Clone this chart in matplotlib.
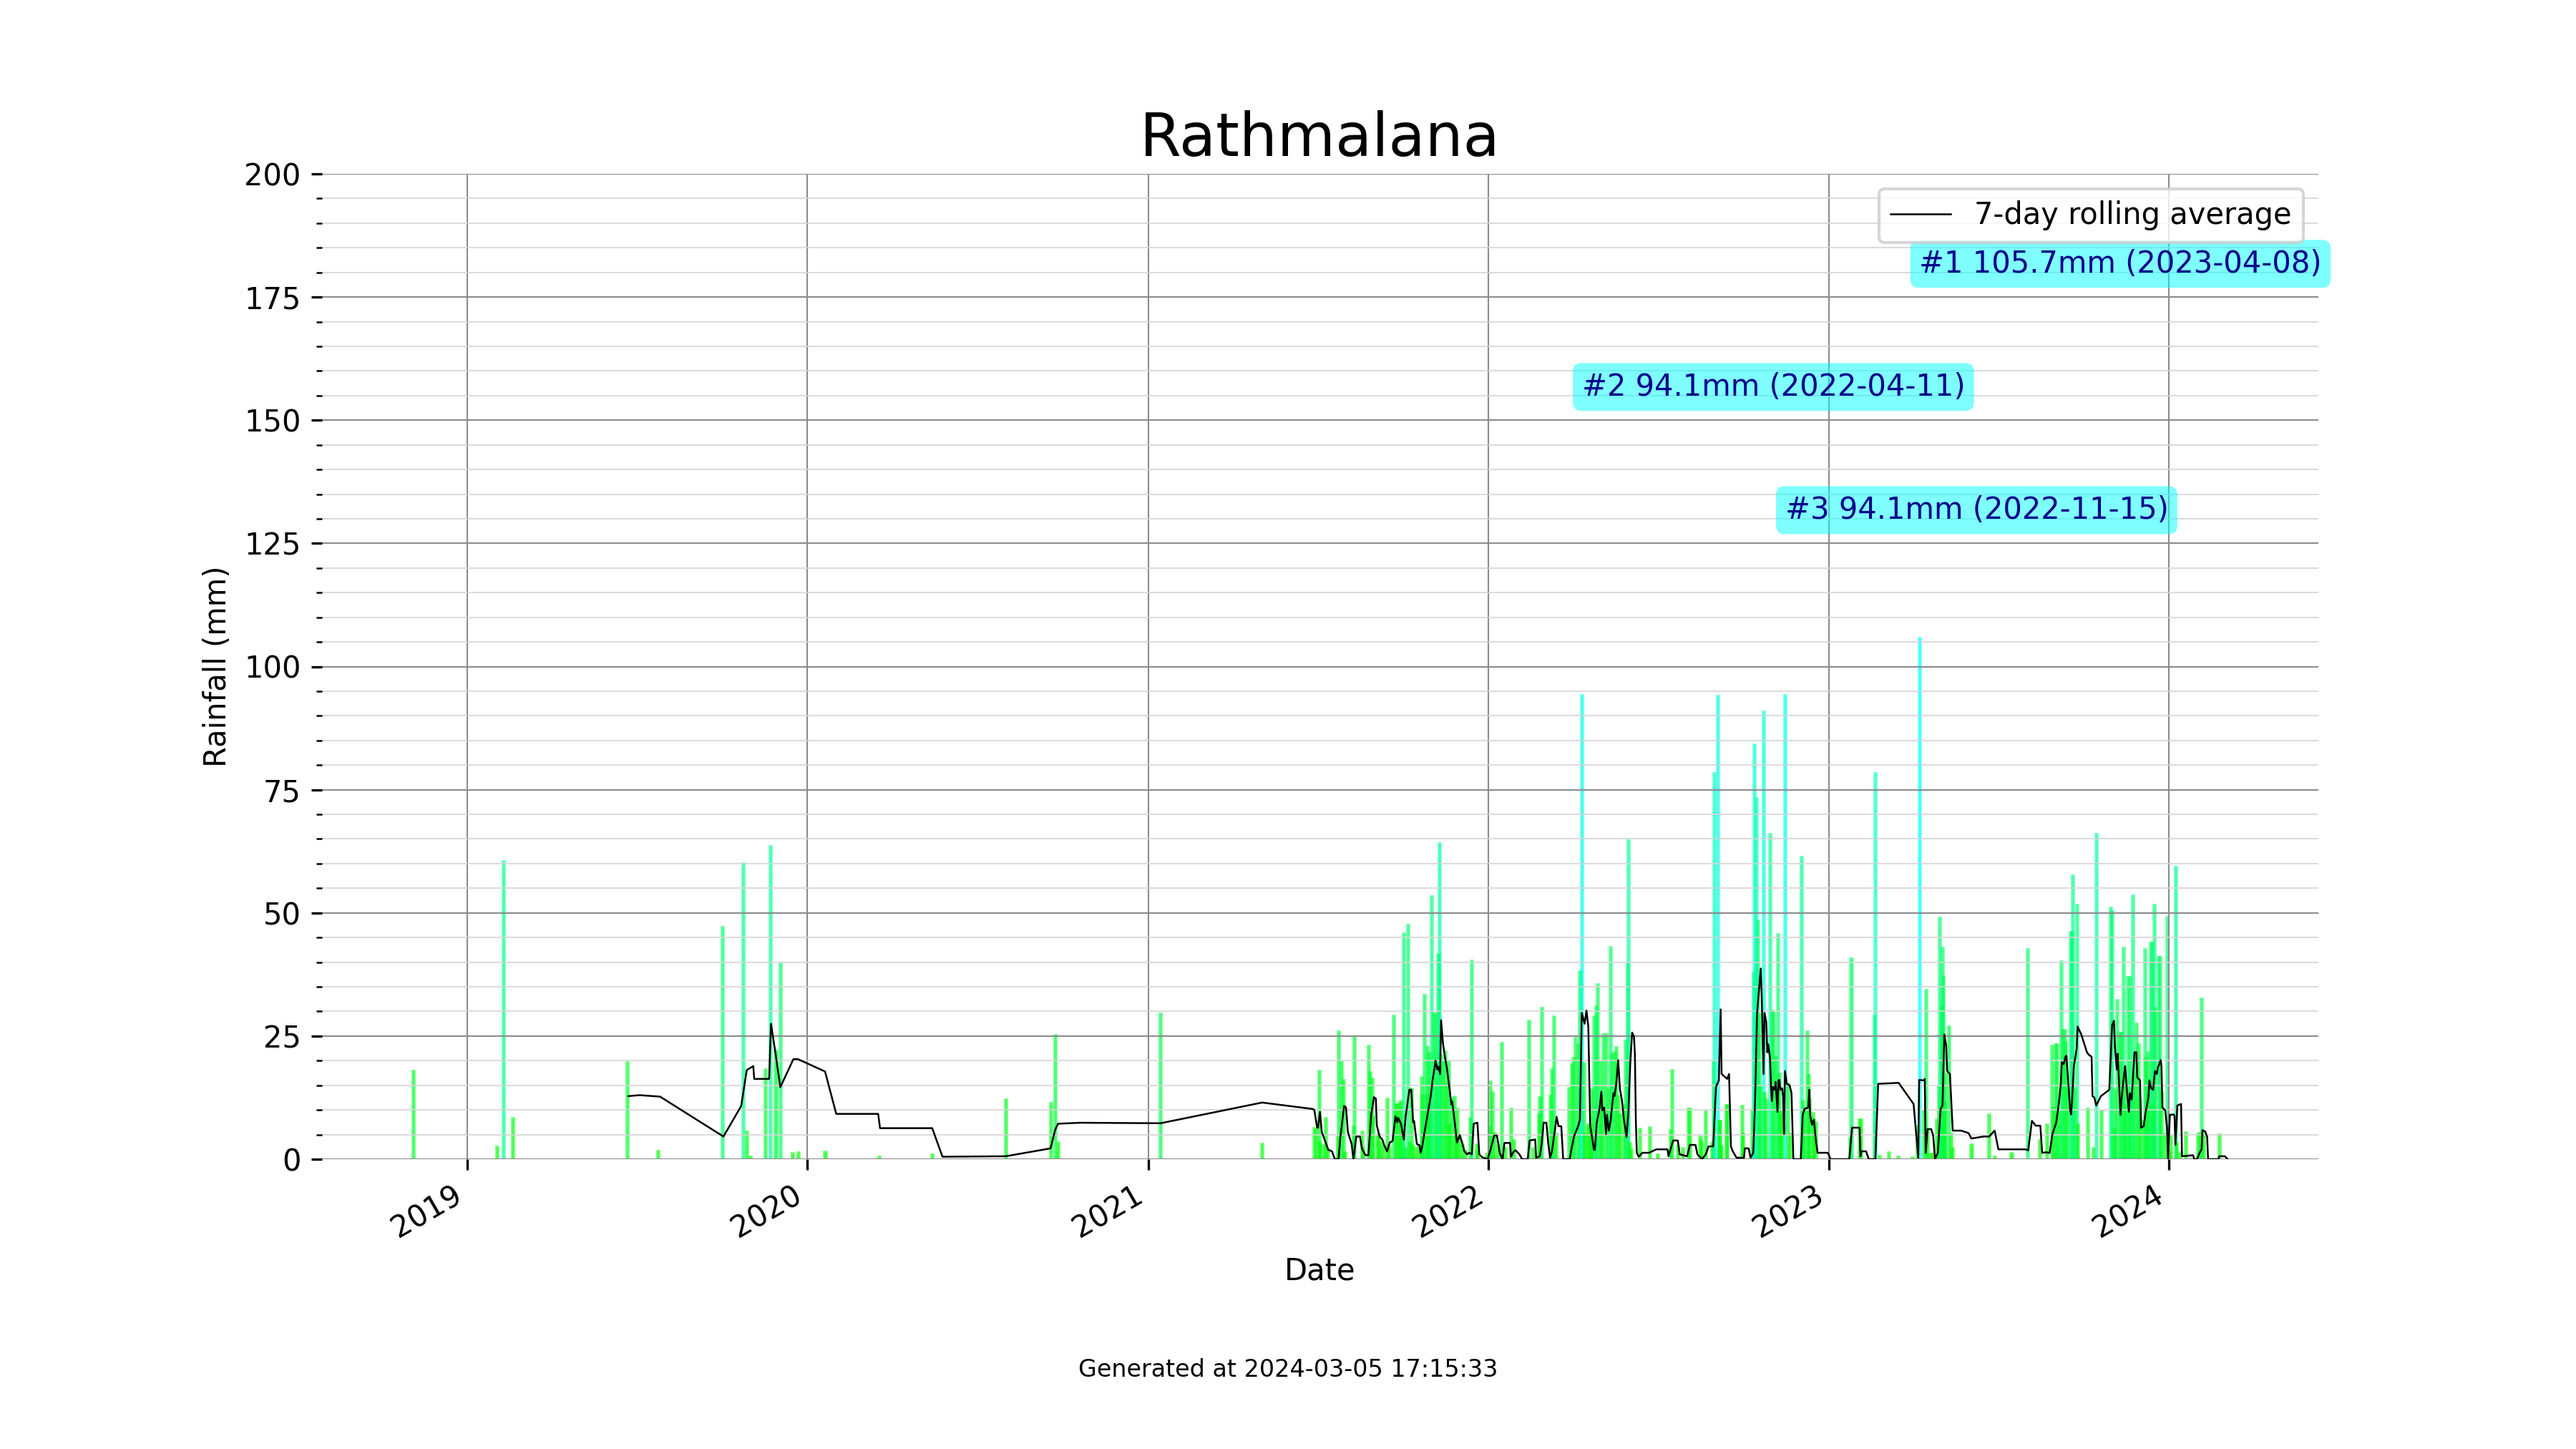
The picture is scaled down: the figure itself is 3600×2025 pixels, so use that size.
import pandas as pd
import matplotlib
matplotlib.use("Agg")
import matplotlib.pyplot as plt
from matplotlib.ticker import MultipleLocator

# ====== DATA ======
STATION = "Rathmalana"
GENERATED = "Generated at 2024-03-05 17:15:33"

# daily rainfall bars (mm)
bar_dates = [
    "2018-11-04", "2019-02-02", "2019-02-09", "2019-02-19", "2019-06-22", "2019-07-25",
    "2019-10-02", "2019-10-24", "2019-10-28", "2019-11-01", "2019-11-17", "2019-11-22",
    "2019-11-28", "2019-12-03", "2019-12-16", "2019-12-22", "2020-01-20", "2020-03-18",
    "2020-05-14", "2020-08-01", "2020-09-18", "2020-09-23", "2020-09-26", "2021-01-14",
    "2021-05-03",
    "2021-06-28", "2021-06-30", "2021-07-03", "2021-07-04", "2021-07-08", "2021-07-10",
    "2021-07-12", "2021-07-23", "2021-07-24", "2021-07-27", "2021-07-29", "2021-07-31",
    "2021-08-09", "2021-08-10", "2021-08-18", "2021-08-19", "2021-08-25", "2021-08-27",
    "2021-08-29", "2021-08-30", "2021-09-03", "2021-09-05", "2021-09-07", "2021-09-10",
    "2021-09-14", "2021-09-16", "2021-09-21", "2021-09-23", "2021-09-25", "2021-09-27",
    "2021-09-29", "2021-10-01", "2021-10-02", "2021-10-04", "2021-10-06", "2021-10-08",
    "2021-10-10", "2021-10-12", "2021-10-15", "2021-10-18", "2021-10-21", "2021-10-22",
    "2021-10-24", "2021-10-26", "2021-10-27", "2021-10-29", "2021-10-30", "2021-11-01",
    "2021-11-03", "2021-11-05", "2021-11-07", "2021-11-08", "2021-11-09", "2021-11-11",
    "2021-11-13", "2021-11-15", "2021-11-17", "2021-11-19", "2021-11-20", "2021-11-22",
    "2021-11-25", "2021-11-27", "2021-11-28", "2021-12-01", "2021-12-04", "2021-12-07",
    "2021-12-12", "2021-12-14", "2021-12-19", "2021-12-20", "2021-12-30",
    "2022-01-02", "2022-01-03", "2022-01-05", "2022-01-07", "2022-01-11", "2022-01-15",
    "2022-01-19", "2022-01-25", "2022-01-28", "2022-02-13", "2022-02-18", "2022-02-24",
    "2022-02-25", "2022-02-27", "2022-03-08", "2022-03-10", "2022-03-12", "2022-03-14",
    "2022-03-28", "2022-03-31", "2022-04-02", "2022-04-04", "2022-04-07", "2022-04-09",
    "2022-04-11", "2022-04-13", "2022-04-14", "2022-04-17", "2022-04-19", "2022-04-21",
    "2022-04-22", "2022-04-24", "2022-04-26", "2022-04-28", "2022-05-01", "2022-05-02",
    "2022-05-04", "2022-05-07", "2022-05-09", "2022-05-12", "2022-05-13", "2022-05-16",
    "2022-05-18", "2022-05-20", "2022-05-22", "2022-05-26", "2022-05-28", "2022-05-30",
    "2022-05-31", "2022-06-01", "2022-06-03", "2022-06-12", "2022-06-23", "2022-07-01",
    "2022-07-15", "2022-07-17", "2022-07-23", "2022-07-28", "2022-08-03", "2022-08-05",
    "2022-08-16", "2022-08-17", "2022-08-22", "2022-08-29", "2022-08-30", "2022-08-31",
    "2022-09-04", "2022-09-05", "2022-09-06", "2022-09-08", "2022-09-13", "2022-09-14",
    "2022-09-30", "2022-10-01", "2022-10-11", "2022-10-12", "2022-10-13", "2022-10-15",
    "2022-10-17", "2022-10-18", "2022-10-20", "2022-10-23", "2022-10-24", "2022-10-26",
    "2022-10-30", "2022-11-01", "2022-11-03", "2022-11-05", "2022-11-07", "2022-11-09",
    "2022-11-10", "2022-11-12", "2022-11-15", "2022-11-18", "2022-11-20", "2022-12-03",
    "2022-12-04", "2022-12-06", "2022-12-09", "2022-12-10", "2022-12-11", "2022-12-15",
    "2022-12-16", "2022-12-18",
    "2023-01-24", "2023-01-25", "2023-02-03", "2023-02-04", "2023-02-19", "2023-02-20",
    "2023-02-24", "2023-03-06", "2023-03-16", "2023-04-01", "2023-04-06", "2023-04-08",
    "2023-04-13", "2023-04-15", "2023-04-17", "2023-04-20", "2023-04-22", "2023-04-27",
    "2023-04-29", "2023-04-30", "2023-05-01", "2023-05-02", "2023-05-03", "2023-05-04",
    "2023-05-05", "2023-05-06", "2023-05-10", "2023-05-12", "2023-05-14", "2023-06-03",
    "2023-06-22", "2023-06-28", "2023-07-16", "2023-08-02", "2023-08-15", "2023-08-23",
    "2023-08-28", "2023-08-30", "2023-09-01", "2023-09-03", "2023-09-05", "2023-09-07",
    "2023-09-09", "2023-09-11", "2023-09-12", "2023-09-14", "2023-09-17", "2023-09-19",
    "2023-09-20", "2023-09-22", "2023-09-24", "2023-09-25", "2023-10-06", "2023-10-12",
    "2023-10-15", "2023-10-20", "2023-10-30", "2023-11-01", "2023-11-03", "2023-11-04",
    "2023-11-06", "2023-11-09", "2023-11-11", "2023-11-13", "2023-11-14", "2023-11-16",
    "2023-11-18", "2023-11-20", "2023-11-21", "2023-11-23", "2023-11-25", "2023-11-27",
    "2023-11-29", "2023-12-01", "2023-12-04", "2023-12-06", "2023-12-07", "2023-12-09",
    "2023-12-10", "2023-12-12", "2023-12-14", "2023-12-15", "2023-12-16", "2023-12-17",
    "2023-12-21", "2023-12-22", "2023-12-24", "2023-12-27", "2023-12-30",
    "2024-01-01", "2024-01-03", "2024-01-08", "2024-01-09", "2024-01-13", "2024-01-19",
    "2024-02-01", "2024-02-03", "2024-02-05", "2024-02-07", "2024-02-24",
]
bar_mm = [
    17.8, 2.5, 60.4, 8.3, 19.6, 1.6,
    47.1, 60.0, 5.5, 0.4, 18.2, 63.4,
    21.9, 39.7, 1.1, 1.3, 1.5, 0.5,
    0.8, 12.0, 11.3, 25.1, 3.4, 29.5,
    3.1,
    6.2, 6.0, 17.8, 3.4, 2.8, 8.3,
    1.9, 4.3, 25.8, 19.8, 16.0, 1.3,
    6.6, 24.8, 5.5, 2.2, 22.9, 17.6,
    16.2, 8.5, 4.6, 4.9, 3.4, 2.5,
    12.2, 2.5, 29.1, 11.1, 11.1, 11.4,
    11.7, 6.9, 45.7, 2.2, 47.5, 3.4,
    14.2, 2.8, 2.2, 2.8, 16.6, 12.9,
    33.2, 12.9, 22.8, 21.5, 12.9, 53.3,
    29.5, 29.5, 15.9, 41.5, 64.1, 20.9,
    19.7, 21.8, 15.3, 19.8, 6.9, 12.3,
    12.7, 5.8, 10.2, 4.6, 2.8, 1.6,
    8.3, 40.2, 2.9, 1.6, 1.0,
    6.6, 15.7, 13.5, 5.2, 2.8, 23.6,
    2.2, 10.2, 3.8, 28.1, 2.2, 9.0,
    12.5, 30.6, 12.8, 18.2, 28.9, 5.1,
    14.4, 19.2, 20.5, 24.6, 23.3, 38.0,
    94.1, 19.5, 5.1, 7.0, 6.4, 7.0,
    14.1, 28.9, 31.0, 35.5, 19.8, 10.9,
    25.3, 25.3, 14.1, 43.0, 21.4, 21.7,
    22.7, 12.8, 9.0, 10.9, 24.0, 39.6,
    64.6, 3.2, 1.9, 6.1, 6.4, 0.8,
    5.8, 18.0, 2.6, 2.2, 10.2, 10.2,
    4.5, 3.5, 9.6, 3.2, 19.8, 78.3,
    93.9, 7.7, 7.7, 2.6, 10.9, 10.9,
    10.7, 5.1, 9.8, 37.7, 84.1, 73.2,
    48.3, 29.4, 14.7, 90.8, 13.4, 12.1,
    66.0, 30.1, 29.7, 20.8, 45.6, 17.3,
    9.6, 9.0, 94.1, 15.3, 5.1, 61.3,
    11.8, 10.2, 25.9, 17.0, 12.1, 9.3,
    8.0, 7.4,
    4.2, 40.7, 8.0, 8.0, 29.1, 78.3,
    0.6, 1.3, 0.4, 0.3, 6.7, 105.7,
    9.9, 34.3, 6.1, 1.0, 1.0, 8.0,
    14.7, 48.9, 10.5, 31.0, 42.8, 37.1,
    11.5, 17.3, 26.9, 5.1, 2.2, 2.9,
    9.0, 0.5, 1.2, 42.6, 3.8, 7.0,
    23.0, 10.5, 23.3, 23.3, 9.6, 40.1,
    26.2, 26.2, 23.7, 14.1, 46.0, 46.0,
    57.5, 14.1, 51.6, 7.0, 10.2, 2.2,
    66.0, 9.7, 51.0, 50.3, 6.1, 14.1,
    32.3, 25.6, 25.6, 42.8, 17.3, 10.9,
    36.9, 36.9, 12.8, 53.5, 17.3, 27.5,
    23.3, 12.1, 7.7, 42.5, 20.5, 21.7,
    12.8, 43.9, 43.9, 10.9, 51.6, 30.7,
    40.9, 40.9, 13.4, 5.1, 49.1,
    1.3, 4.5, 59.3, 3.2, 1.3, 5.4,
    5.1, 5.3, 32.6, 5.1, 5.0,
]

# 7-day rolling average line (mm)
avg_dates = [
    "2019-06-23", "2019-07-05", "2019-07-27", "2019-10-03", "2019-10-22", "2019-10-28",
    "2019-11-04", "2019-11-05", "2019-11-21", "2019-11-23", "2019-11-28", "2019-12-03",
    "2019-12-17", "2019-12-22", "2020-01-20", "2020-02-01", "2020-03-17", "2020-03-19",
    "2020-05-14", "2020-05-25", "2020-08-01", "2020-09-18", "2020-09-23", "2020-09-26",
    "2020-10-20", "2021-01-14", "2021-05-03", "2021-06-26",
    "2021-06-28", "2021-07-01", "2021-07-02", "2021-07-04", "2021-07-06", "2021-07-09",
    "2021-07-13", "2021-07-17", "2021-07-20", "2021-07-24", "2021-07-26", "2021-07-30",
    "2021-08-01", "2021-08-03", "2021-08-07", "2021-08-09", "2021-08-12", "2021-08-16",
    "2021-08-18", "2021-08-22", "2021-08-25", "2021-08-28", "2021-08-31", "2021-09-02",
    "2021-09-03", "2021-09-06", "2021-09-09", "2021-09-11", "2021-09-14", "2021-09-17",
    "2021-09-20", "2021-09-23", "2021-09-25", "2021-09-26", "2021-09-29", "2021-10-02",
    "2021-10-04", "2021-10-08", "2021-10-10", "2021-10-12", "2021-10-13", "2021-10-16",
    "2021-10-19", "2021-10-20", "2021-10-22", "2021-10-24", "2021-10-28", "2021-10-31",
    "2021-11-02", "2021-11-04", "2021-11-05", "2021-11-07", "2021-11-08", "2021-11-10",
    "2021-11-11", "2021-11-13", "2021-11-15", "2021-11-17", "2021-11-20", "2021-11-22",
    "2021-11-23", "2021-11-26", "2021-11-28", "2021-12-01", "2021-12-04", "2021-12-06",
    "2021-12-09", "2021-12-11", "2021-12-14", "2021-12-16", "2021-12-20", "2021-12-22",
    "2021-12-25", "2021-12-31",
    "2022-01-03", "2022-01-07", "2022-01-10", "2022-01-13", "2022-01-16", "2022-01-18",
    "2022-01-24", "2022-01-25", "2022-01-28", "2022-01-30", "2022-02-03", "2022-02-06",
    "2022-02-12", "2022-02-14", "2022-02-20", "2022-02-21", "2022-02-25", "2022-02-27",
    "2022-03-01", "2022-03-04", "2022-03-06", "2022-03-08", "2022-03-10", "2022-03-15",
    "2022-03-17", "2022-03-20", "2022-03-22", "2022-03-29", "2022-03-31", "2022-04-03",
    "2022-04-07", "2022-04-09", "2022-04-11", "2022-04-14", "2022-04-16", "2022-04-18",
    "2022-04-20", "2022-04-22", "2022-04-24", "2022-04-25", "2022-04-27", "2022-04-30",
    "2022-05-02", "2022-05-03", "2022-05-05", "2022-05-07", "2022-05-08", "2022-05-10",
    "2022-05-12", "2022-05-15", "2022-05-16", "2022-05-18", "2022-05-20", "2022-05-22",
    "2022-05-24", "2022-05-26", "2022-05-29", "2022-05-31", "2022-06-02", "2022-06-04",
    "2022-06-06", "2022-06-07", "2022-06-08", "2022-06-09", "2022-06-11", "2022-06-15",
    "2022-06-22", "2022-06-30", "2022-07-12", "2022-07-13", "2022-07-18", "2022-07-23",
    "2022-07-25", "2022-08-02", "2022-08-05", "2022-08-11", "2022-08-13", "2022-08-18",
    "2022-08-22", "2022-08-25", "2022-08-30", "2022-09-02", "2022-09-05", "2022-09-07",
    "2022-09-08", "2022-09-14", "2022-09-16", "2022-09-18", "2022-09-20", "2022-09-24",
    "2022-10-02", "2022-10-03", "2022-10-07", "2022-10-09", "2022-10-12", "2022-10-14",
    "2022-10-16", "2022-10-20", "2022-10-21", "2022-10-23", "2022-10-24", "2022-10-26",
    "2022-10-27", "2022-10-28", "2022-10-30", "2022-10-31", "2022-11-01", "2022-11-02",
    "2022-11-04", "2022-11-05", "2022-11-07", "2022-11-08", "2022-11-09", "2022-11-10",
    "2022-11-12", "2022-11-13", "2022-11-14", "2022-11-15", "2022-11-17", "2022-11-20",
    "2022-11-22", "2022-11-24", "2022-12-02", "2022-12-04", "2022-12-06", "2022-12-10",
    "2022-12-11", "2022-12-12", "2022-12-14", "2022-12-16", "2022-12-18", "2022-12-20",
    "2022-12-31",
    "2023-01-03", "2023-01-23", "2023-01-26", "2023-02-03", "2023-02-04", "2023-02-05",
    "2023-02-10", "2023-02-13", "2023-02-20", "2023-02-23", "2023-03-17", "2023-04-02",
    "2023-04-07", "2023-04-08", "2023-04-13", "2023-04-14", "2023-04-15", "2023-04-17",
    "2023-04-21", "2023-04-23", "2023-04-25", "2023-04-28", "2023-05-01", "2023-05-03",
    "2023-05-05", "2023-05-07", "2023-05-08", "2023-05-11", "2023-05-14", "2023-05-23",
    "2023-05-31", "2023-06-03", "2023-06-16", "2023-06-22", "2023-06-28", "2023-07-02",
    "2023-07-31", "2023-08-03", "2023-08-07", "2023-08-11", "2023-08-16", "2023-08-18",
    "2023-08-22", "2023-08-26", "2023-08-29", "2023-09-02", "2023-09-05", "2023-09-07",
    "2023-09-08", "2023-09-10", "2023-09-12", "2023-09-13", "2023-09-14", "2023-09-17",
    "2023-09-18", "2023-09-19", "2023-09-21", "2023-09-24", "2023-09-25", "2023-09-29",
    "2023-10-05", "2023-10-07", "2023-10-10", "2023-10-11", "2023-10-13", "2023-10-15",
    "2023-10-20", "2023-10-29", "2023-11-01", "2023-11-03", "2023-11-04", "2023-11-06",
    "2023-11-07", "2023-11-10", "2023-11-11", "2023-11-13", "2023-11-15", "2023-11-17",
    "2023-11-19", "2023-11-20", "2023-11-22", "2023-11-25", "2023-11-27", "2023-11-28",
    "2023-12-01", "2023-12-02", "2023-12-05", "2023-12-07", "2023-12-10", "2023-12-11",
    "2023-12-13", "2023-12-15", "2023-12-17", "2023-12-19", "2023-12-20", "2023-12-23",
    "2023-12-24", "2023-12-25", "2023-12-28", "2023-12-30", "2023-12-31",
    "2024-01-02", "2024-01-06", "2024-01-07", "2024-01-08", "2024-01-10", "2024-01-14",
    "2024-01-15", "2024-01-27", "2024-01-28", "2024-01-31", "2024-02-03", "2024-02-05",
    "2024-02-06", "2024-02-09", "2024-02-11", "2024-02-12", "2024-02-23", "2024-02-24",
    "2024-03-01", "2024-03-04",
]
avg_mm = [
    12.8, 13.0, 12.7, 4.6, 10.8, 18.1,
    18.9, 16.3, 16.3, 27.5, 21.3, 14.6,
    20.3, 20.3, 17.8, 9.2, 9.2, 6.3,
    6.3, 0.5, 0.6, 2.2, 6.0, 7.2,
    7.4, 7.3, 11.5, 10.2,
    10.0, 6.4, 6.4, 9.6, 5.5, 4.0,
    1.9, 1.6, 0.0, 0.0, 4.6, 10.8,
    10.5, 5.5, 3.1, 0.0, 4.6, 4.6,
    2.2, 0.8, 0.8, 9.0, 12.6, 12.3,
    6.9, 4.6, 4.0, 2.8, 1.6, 3.4,
    3.7, 8.7, 7.5, 8.4, 7.2, 4.0,
    8.7, 14.1, 14.1, 7.5, 7.8, 3.1,
    2.8, 1.3, 2.8, 5.2, 9.6, 12.9,
    16.2, 18.5, 20.0, 18.2, 18.8, 17.3,
    28.2, 23.6, 20.9, 18.8, 14.4, 11.1,
    11.7, 6.9, 3.4, 4.9, 3.1, 1.6,
    1.0, 1.3, 1.0, 7.2, 7.4, 1.0,
    0.4, 0.0,
    1.9, 4.8, 4.8, 1.2, 0.0, 3.3,
    3.3, 0.5, 1.6, 1.8, 1.0, 0.0,
    0.0, 3.8, 4.0, 0.3, 0.6, 3.2,
    7.4, 7.4, 3.2, 0.3, 1.6, 8.6,
    6.7, 6.7, 0.0, 0.0, 2.2, 4.8,
    6.7, 8.0, 29.7, 27.5, 30.2, 26.9,
    6.7, 4.5, 1.9, 1.9, 7.4, 10.2,
    13.7, 9.9, 10.5, 5.1, 9.0, 5.8,
    8.0, 13.4, 12.8, 15.3, 20.1, 14.1,
    12.1, 8.3, 4.5, 9.6, 19.5, 25.7,
    24.9, 21.1, 7.7, 1.3, 0.5, 1.3,
    1.3, 2.0, 2.0, 0.6, 3.8, 3.8,
    1.0, 0.6, 2.9, 2.9, 1.0, 0.0,
    1.0, 2.6, 2.6, 14.7, 16.0, 30.4,
    17.3, 16.3, 17.3, 2.6, 1.6, 0.3,
    0.3, 2.2, 2.2, 0.3, 1.3, 12.1,
    29.4, 38.7, 33.2, 17.3, 29.7, 27.8,
    21.7, 23.3, 20.5, 14.7, 11.8, 14.7,
    14.1, 15.7, 9.6, 16.0, 16.1, 14.1,
    14.4, 12.8, 5.1, 17.9, 15.3, 15.0,
    13.4, 0.0, 0.0, 9.0, 10.2, 10.5,
    14.1, 9.0, 7.0, 8.0, 4.2, 1.3,
    1.3,
    0.0, 0.0, 6.4, 6.4, 0.6, 1.6,
    1.6, 0.0, 0.0, 15.3, 15.5, 11.2,
    0.3, 16.1, 16.0, 16.3, 1.3, 6.1,
    6.1, 4.8, 0.0, 1.3, 10.2, 10.9,
    25.3, 23.0, 17.9, 17.3, 5.8, 5.8,
    5.3, 4.2, 4.6, 4.6, 5.8, 2.0,
    2.0, 1.8, 7.8, 6.8, 6.8, 1.3,
    1.4, 1.3, 5.1, 7.4, 11.5, 15.3,
    19.7, 19.3, 20.8, 21.0, 18.2, 9.9,
    9.1, 11.8, 18.9, 22.4, 26.9, 25.3,
    21.7, 21.2, 20.8, 12.8, 12.5, 10.9,
    12.8, 14.1, 27.2, 28.1, 23.0, 18.2,
    21.4, 9.0, 11.8, 15.7, 18.9, 13.7,
    9.6, 13.4, 12.1, 21.7, 21.7, 16.6,
    16.0, 6.4, 6.7, 9.6, 12.5, 16.0,
    14.4, 14.1, 17.9, 17.3, 18.5, 20.1,
    18.9, 10.5, 9.9, 6.4, 0.0,
    9.0, 9.1, 8.8, 2.9, 10.9, 11.2,
    0.6, 0.8, 0.0, 0.0, 1.3, 2.0,
    5.9, 5.6, 4.5, 0.0, 0.0, 0.6,
    0.6, 0.0,
]

# ====== FRAME ======
rain = pd.DataFrame({"date": pd.to_datetime(bar_dates), "mm": bar_mm})
avg = pd.DataFrame({"date": pd.to_datetime(avg_dates), "mm": avg_mm})

# bar colour: green for light rain, fading to cyan for the heaviest day
vmax = rain["mm"].max()
colors = [(0.0, 1.0, v / vmax) for v in rain["mm"]]

fig, ax = plt.subplots(figsize=(12, 6.75), dpi=300)

ax.bar(rain["date"], rain["mm"], width=0.8, color=colors, edgecolor=colors,
       linewidth=1.1, alpha=0.6)
ax.plot(avg["date"], avg["mm"], color="black", linewidth=0.6, label="7-day rolling average")

# top 3 wettest days
top3 = rain.nlargest(3, "mm")
for i, (_, row) in enumerate(top3.iterrows()):
    ax.text(row["date"], 180 - 25 * i,
            f"#{i + 1} {row['mm']:.1f}mm ({row['date']:%Y-%m-%d})",
            color="darkblue",
            bbox=dict(boxstyle="round", facecolor="cyan", edgecolor="none", alpha=0.5))

ax.set_ylim(0, 200)
ax.yaxis.set_major_locator(MultipleLocator(25))
ax.yaxis.set_minor_locator(MultipleLocator(5))
ax.grid(which="major", color="#8c8c8c", linewidth=0.5)
ax.grid(which="minor", axis="y", color="#d4d4d4", linewidth=0.4)
for side in ["top", "right", "left", "bottom"]:
    ax.spines[side].set_visible(False)

ax.set_title(STATION, fontsize=20)
ax.set_xlabel("Date")
ax.set_ylabel("Rainfall (mm)")
ax.legend(loc="upper right")

fig.autofmt_xdate()
fig.text(0.5, 0.05, GENERATED, ha="center", fontsize=8)

fig.savefig("out.png", dpi=300)
